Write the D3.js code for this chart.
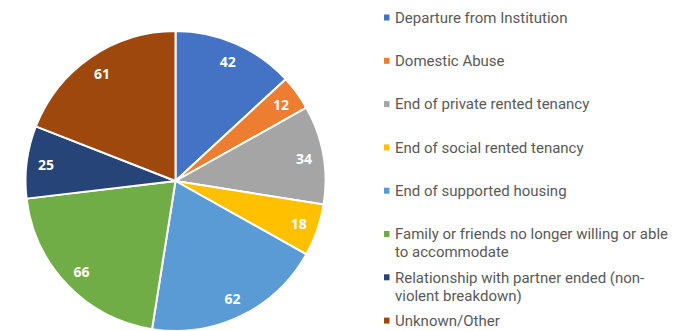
<!DOCTYPE html>
<html>
<head>
<meta charset="utf-8">
<script src="https://cdn.jsdelivr.net/npm/d3@7"></script>
<style>
  html, body { margin: 0; padding: 0; background: #ffffff; }
  svg { display: block; }
</style>
</head>
<body>
<svg id="chart" width="676" height="331"></svg>
<script>
// Reasons for homelessness: counts per category
const categories = [
  "Departure from Institution",
  "Domestic Abuse",
  "End of private rented tenancy",
  "End of social rented tenancy",
  "End of supported housing",
  "Family or friends no longer willing or able to accommodate",
  "Relationship with partner ended (non-violent breakdown)",
  "Unknown/Other"
];
const counts = [42, 12, 34, 18, 62, 66, 25, 61];
const colors = ["#4472C4", "#ED7D31", "#A5A5A5", "#FFC000", "#5B9BD5", "#70AD47", "#264478", "#9E480E"];

const data = categories.map((c, i) => ({ category: c, value: counts[i], color: colors[i] }));

const svg = d3.select("#chart");
const cx = 175.5, cy = 181, radius = 150;

const pie = d3.pie().value(d => d.value).sort(null);
const arc = d3.arc().innerRadius(0).outerRadius(radius);
const labelArc = d3.arc().innerRadius(radius * 0.87).outerRadius(radius * 0.87);

const g = svg.append("g").attr("transform", `translate(${cx},${cy})`);
const arcs = pie(data);

g.selectAll("path.slice")
  .data(arcs)
  .join("path")
  .attr("class", "slice")
  .attr("d", arc)
  .attr("fill", d => d.data.color)
  .attr("stroke", "#ffffff")
  .attr("stroke-width", 2)
  .attr("stroke-linejoin", "round");

g.selectAll("text.value")
  .data(arcs)
  .join("text")
  .attr("class", "value")
  .attr("transform", d => `translate(${labelArc.centroid(d)})`)
  .attr("text-anchor", "middle")
  .attr("dominant-baseline", "central")
  .attr("font-family", "'Open Sans', 'DejaVu Sans', sans-serif")
  .attr("font-weight", "bold")
  .attr("font-size", 14)
  .attr("fill", "#ffffff")
  .text(d => d.data.value);

// Legend: one entry per category, long names wrapped onto extra lines
const legendFont = { family: "Roboto, 'Open Sans', sans-serif", size: 15 };
const legend = svg.append("g").attr("transform", "translate(384,0)");
const rowStep = 43.3, firstRow = 17.5, lineHeight = 18, maxWidth = 280, textX = 11;

function tokens(str) {
  // split after spaces and hyphens, keeping a hyphen with its word
  return str.match(/[^\s-]+-?/g);
}

function styleText(sel) {
  return sel
    .attr("font-family", legendFont.family)
    .attr("font-size", legendFont.size)
    .attr("fill", "#595959");
}

data.forEach((d, i) => {
  const y = firstRow + i * rowStep;
  const item = legend.append("g").attr("transform", `translate(0,${y})`);
  item.append("rect")
    .attr("x", 0).attr("y", -3)
    .attr("width", 5.5).attr("height", 6)
    .attr("fill", d.color);
  const text = styleText(item.append("text").attr("x", textX));

  // greedy word wrap
  const words = tokens(d.category);
  const lines = [];
  let line = "";
  const probe = styleText(item.append("text")).attr("visibility", "hidden");
  words.forEach(w => {
    const sep = (line === "" || line.endsWith("-")) ? "" : " ";
    const candidate = line + sep + w;
    probe.text(candidate);
    if (line !== "" && probe.node().getComputedTextLength() > maxWidth) {
      lines.push(line);
      line = w;
    } else {
      line = candidate;
    }
  });
  if (line) lines.push(line);
  probe.remove();

  lines.forEach((l, k) => {
    text.append("tspan")
      .attr("x", textX)
      .attr("y", k * lineHeight)
      .attr("dy", "0.35em")
      .text(l);
  });
});
</script>
</body>
</html>
